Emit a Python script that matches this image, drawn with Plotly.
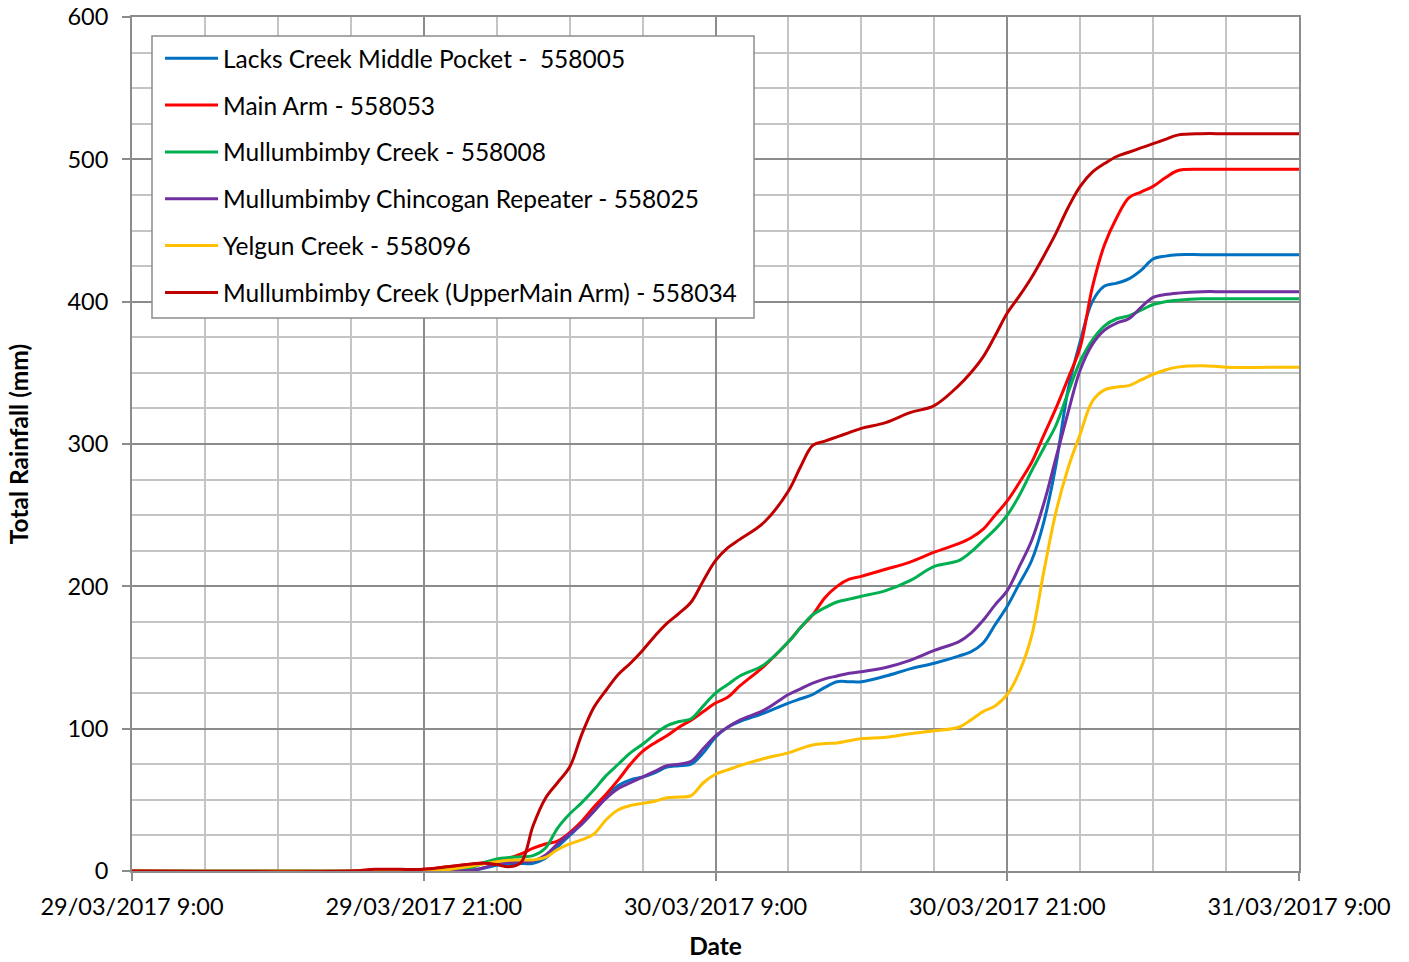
import pandas as pd
import plotly.graph_objects as go

# Hours after 29/03/2017 9:00
hours = [0, 9, 10, 11, 12, 13, 14, 14.5, 15, 15.5, 16, 16.5, 17, 17.5, 18, 18.5, 19, 19.5,
         20, 20.5, 21, 21.5, 22, 22.5, 23, 23.5, 24, 24.5, 25, 26, 27, 27.5, 28, 28.5, 29,
         29.5, 30, 31, 32, 33, 34, 34.5, 35, 35.5, 36, 36.5, 37, 37.5, 38, 38.5, 39, 39.5,
         40, 40.5, 41, 41.5, 42, 42.5, 43, 44, 45, 48]

lacks_creek = [0, 0, 0, 0, 0, 0, 0.5, 2, 4, 5, 5.2, 5.5, 9, 17, 25, 33, 42, 52,
               60, 64, 66, 69, 73, 74, 75, 83, 94, 101, 105, 111, 118, 121, 124, 129, 133,
               133, 133, 137, 142, 146, 151, 154, 160, 173, 186, 202, 218, 245, 285, 338, 372, 400,
               411, 413, 416, 422, 430, 432, 433, 433, 433, 433]

main_arm = [0, 0, 1, 1, 1.2, 3, 5, 6, 7, 9, 12, 16, 19, 21, 27, 35, 45, 54,
            64, 75, 84, 90, 95, 101, 106, 112, 118, 122, 130, 144, 161, 171, 180, 192, 200,
            205, 207, 212, 217, 224, 230, 234, 240, 250, 260, 273, 287, 306, 325, 346, 368, 410,
            440, 459, 473, 477, 481, 487, 492, 493, 493, 493]

mullumbimby_creek = [0, 0, 0, 0, 0, 0.5, 2.5, 6, 8.5, 9.5, 10, 10.8, 16, 30, 40, 48, 57, 67,
                     75, 83, 89, 96, 102, 105, 107, 116, 125, 131, 137, 145, 161, 171, 180, 185, 189,
                     191, 193, 197, 204, 214, 218, 224, 232, 240, 250, 264, 281, 297, 313, 336, 358, 373,
                     383, 388, 390, 394, 398, 400, 401, 402, 402, 402]

chincogan = [0, 0, 0, 0, 0, 0, 0.5, 2.5, 5, 6, 6.5, 7, 11, 19, 26, 33, 42, 51,
             58, 62, 66, 70, 74, 75, 77, 86, 95, 101, 106, 113, 124, 128, 132, 135, 137,
             139, 140, 143, 148, 155, 161, 167, 176, 187, 197, 214, 232, 258, 290, 322, 352, 370,
             380, 385, 388, 396, 403, 405, 406, 407, 407, 407]

yelgun_creek = [0, 0, 0, 0, 0, 1, 3.5, 5, 6.5, 7.5, 7.7, 7.8, 9.5, 15, 19, 22, 26, 36,
                43, 46, 47.5, 49, 51.5, 52, 53, 62, 68, 71, 74, 79, 83, 86, 88.5, 89.5, 90,
                91.5, 93, 94, 96.5, 98.5, 101, 106, 112, 116, 124, 140, 165, 210, 252, 283, 307, 330,
                338, 340, 341, 345, 349, 352, 354, 355, 354, 354]

upper_main_arm = [0, 0, 1.2, 1.2, 1.2, 3, 5, 5.4, 4.5, 3, 6, 32, 51, 62, 73, 96, 115, 127,
                  138, 146, 155, 165, 174, 181, 189, 204, 218, 227, 233, 245, 267, 284, 299, 302, 305,
                  308, 311, 315, 322, 327, 341, 350, 361, 376, 392, 404, 417, 432, 448, 466, 481, 491,
                  497, 502, 505, 508, 511, 514, 517, 518, 518, 518]

series_names = [
    "Lacks Creek Middle Pocket -  558005",
    "Main Arm - 558053",
    "Mullumbimby Creek - 558008",
    "Mullumbimby Chincogan Repeater - 558025",
    "Yelgun Creek - 558096",
    "Mullumbimby Creek (UpperMain Arm) - 558034",
]
series_values = [lacks_creek, main_arm, mullumbimby_creek, chincogan, yelgun_creek, upper_main_arm]
series_colors = ["#0070C0", "#FF0000", "#00B050", "#7030A0", "#FFC000", "#C00000"]

y_ticks = [0, 100, 200, 300, 400, 500, 600]

base = pd.Timestamp("2017-03-29 09:00")
times = base + pd.to_timedelta(hours, unit="h")

FONT = "Lato"

fig = go.Figure()
for i, (name, vals, col) in enumerate(zip(series_names, series_values, series_colors)):
    fig.add_trace(go.Scatter(
        x=times, y=vals, name=name.replace(" ", "\u00a0"), mode="lines",
        line=dict(color=col, width=3, shape="spline", smoothing=1.0),
        legendgroup=f"g{i}",
    ))

# legend frame drawn as a paper-anchored box behind the legend entries
fig.add_shape(type="rect", xref="paper", yref="paper",
              x0=0.01714, x1=0.53299, y0=0.64754, y1=0.97775,
              fillcolor="white", line=dict(color="#8c8c8c", width=1.5), layer="above")

fig.update_layout(
    width=1409, height=962,
    margin=dict(l=132, r=110, t=17, b=91, autoexpand=False),
    paper_bgcolor="white", plot_bgcolor="white",
    font=dict(family=FONT, size=23.5, color="black"),
    showlegend=True,
    legend=dict(
        x=0.0240, y=0.978, xanchor="left", yanchor="top",
        bgcolor="rgba(0,0,0,0)", borderwidth=0,
        font=dict(family=FONT, size=24.5, color="black"),
        tracegroupgap=12, traceorder="grouped", itemwidth=53,
    ),
    xaxis=dict(
        type="date", automargin=False,
        range=[base, base + pd.Timedelta(hours=48)],
        tick0=base, dtick=12 * 3600 * 1000,
        tickformat="%d/%m/%Y %-H:%M",
        showgrid=True, gridcolor="#8c8c8c", gridwidth=2,
        showline=True, linecolor="#8c8c8c", linewidth=2, mirror=True,
        ticks="outside", ticklen=8, tickcolor="#8c8c8c", tickwidth=2,
        ticklabelstandoff=6,
        tickfont=dict(family=FONT, size=23.5),
        minor=dict(dtick=3 * 3600 * 1000, tick0=base, showgrid=True,
                   gridcolor="#c4c4c4", gridwidth=2),
        title=dict(text="<b>Date</b>", font=dict(family=FONT, size=24.5), standoff=19),
        zeroline=False,
    ),
    yaxis=dict(
        range=[0, 600], tickvals=y_ticks, automargin=False,
        showgrid=True, gridcolor="#8c8c8c", gridwidth=2,
        showline=True, linecolor="#8c8c8c", linewidth=2, mirror=True,
        ticks="outside", ticklen=8, tickcolor="#8c8c8c", tickwidth=2,
        ticklabelstandoff=9,
        tickfont=dict(family=FONT, size=23.5),
        minor=dict(dtick=25, showgrid=True, gridcolor="#c4c4c4", gridwidth=2),
        title=dict(text="<b>Total Rainfall (mm)</b>", font=dict(family=FONT, size=24.5), standoff=32),
        zeroline=False,
    ),
)

fig.write_html("out.html", config={"displayModeBar": False},
               post_script="document.body.style.margin='0';")
